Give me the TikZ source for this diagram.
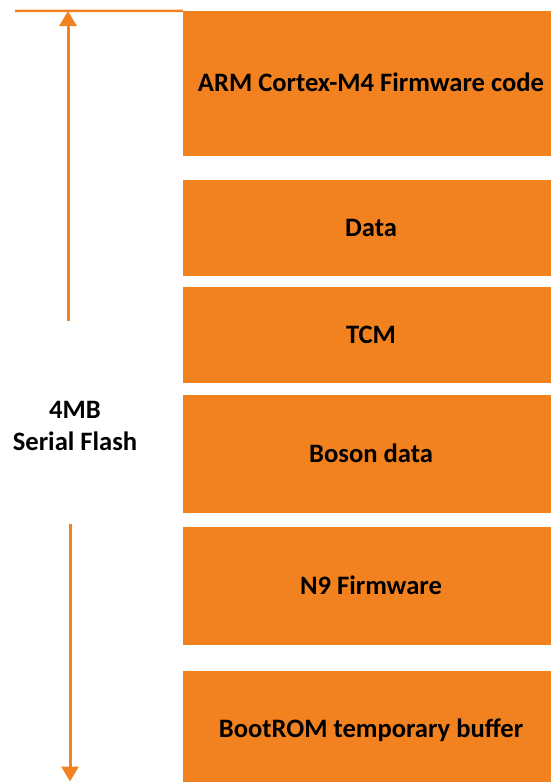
\documentclass[tikz,border=0pt]{standalone}
\usepackage{fontspec}
\setmainfont{Carlito}
\usetikzlibrary{arrows.meta}
\definecolor{flashorange}{RGB}{242,130,32}

\begin{document}
\begin{tikzpicture}[x=1pt, y=-1pt,
    every node/.style={font=\bfseries\fontsize{26.6}{32}\selectfont, text=black, inner sep=0pt},
    region/.style={fill=flashorange, minimum width=376pt, text height=16.8pt, text depth=0pt},
    span/.style={draw=flashorange, line width=3pt, -{Triangle[width=17pt,length=15pt]}}]
    \useasboundingbox (0,0) rectangle (550,782);

    % memory map
    \path (371,83.35) node[region, minimum height=144.7pt] (r0) {ARM Cortex-M4 Firmware code}
    (371,228) node[region, minimum height=96pt] (r1) {Data}
    (371,334.85) node[region, minimum height=95.7pt] (r2) {TCM}
    (371,453.85) node[region, minimum height=117.7pt] (r3) {Boson data}
    (371,585.85) node[region, minimum height=117.7pt] (r4) {N9 Firmware}
    (371,729) node[region, minimum height=116pt] (r5) {BootROM temporary buffer};

    \path (75,426) node[align=center] (flash) {4MB\\Serial Flash};

    \coordinate (ruleleft) at (15,11);
    \coordinate (uptail) at (68,321);
    \coordinate (uphead) at (68,11);
    \coordinate (downtail) at (70,524);
    \coordinate (downhead) at (70,781.5);

    \draw[flashorange, line width=2.5pt] (ruleleft) -- (r0.north west);
    \draw[span] (uptail) -- (uphead);
    \draw[span] (downtail) -- (downhead);
\end{tikzpicture}
\end{document}
